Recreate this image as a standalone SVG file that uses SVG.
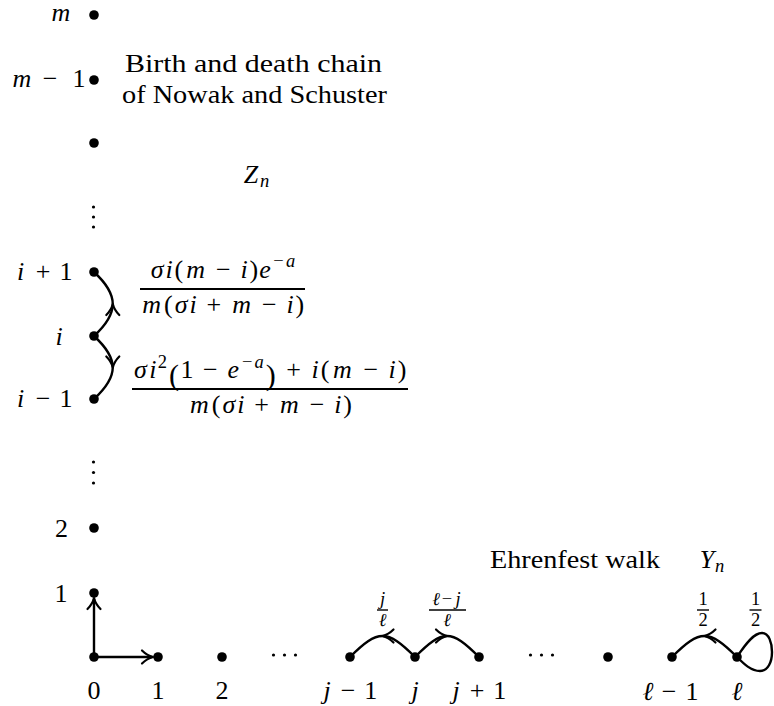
<svg xmlns="http://www.w3.org/2000/svg" width="774" height="706" viewBox="0 0 774 706">
<style>
.tx{font-family:"Liberation Serif","Times New Roman",serif;fill:#000;font-size:26px}
.c{text-anchor:middle}
.i{font-style:italic}
.sc{font-size:18.5px}
.big{font-size:30px}
.dot{fill:#000}
.edge{fill:none;stroke:#000;stroke-width:2.4;stroke-linecap:round}
.rule{stroke:#000;stroke-width:1.8}
.srule{stroke:#000;stroke-width:1.4}
</style>
<defs>
<path id="tip" d="M-11,-6.5 C-7,-2.5 -2.5,-0.6 0,0 C-2.5,0.6 -7,2.5 -11,6.5" fill="none" stroke="#000" stroke-width="2.2" stroke-linecap="round" stroke-linejoin="round"/>
</defs>
<rect width="774" height="706" fill="#fff"/>

<g id="connectors">
<path class="edge" d="M94,657 L94,599"/>
<use href="#tip" transform="translate(94,598) rotate(-90)"/>
<path class="edge" d="M94,657 L152,657"/>
<use href="#tip" transform="translate(153,657)"/>
<path class="edge" d="M94,336 C119,313 119,295 94,272"/>
<use href="#tip" transform="translate(112.8,304) rotate(-90)"/>
<path class="edge" d="M94,336 C119,359 119,376 94,399"/>
<use href="#tip" transform="translate(112.8,367.5) rotate(90)"/>
<path class="edge" d="M415,657 C387,629 378,629 350,657"/>
<use href="#tip" transform="translate(382.5,636) rotate(180)"/>
<path class="edge" d="M415,657 C443,629 451,629 479,657"/>
<use href="#tip" transform="translate(447,636)"/>
<path class="edge" d="M737,657 C709,629 700,629 672,657"/>
<use href="#tip" transform="translate(704.5,636) rotate(180)"/>
<path class="edge" d="M737,657 C746,643 754,633 762,633 C769,633 772,643 772,652 C772,662 768,671 760,671 C751,671 744,664 737,657"/>
</g>

<g id="node-m">
<circle class="dot" cx="94" cy="15" r="4.8"/>
<text class="tx c i" x="61" y="21">m</text>
</g>
<g id="node-m-1">
<circle class="dot" cx="94" cy="80" r="4.8"/>
<text class="tx c" y="87"><tspan class="i" x="22">m</tspan><tspan x="50">−</tspan><tspan x="79">1</tspan></text>
</g>
<g id="node-m-2">
<circle class="dot" cx="94" cy="143" r="4.8"/>
</g>
<g id="vdots-upper">
<circle class="dot" cx="93.5" cy="207" r="1.6"/>
<circle class="dot" cx="93.5" cy="217" r="1.6"/>
<circle class="dot" cx="93.5" cy="227" r="1.6"/>
</g>
<g id="node-i+1">
<circle class="dot" cx="94" cy="272" r="4.8"/>
<text class="tx c" y="279.6"><tspan class="i" x="20.5">i</tspan><tspan x="43">+</tspan><tspan x="66">1</tspan></text>
</g>
<g id="node-i">
<circle class="dot" cx="94" cy="336" r="4.8"/>
<text class="tx c i" x="59" y="344.7">i</text>
</g>
<g id="node-i-1">
<circle class="dot" cx="94" cy="399" r="4.8"/>
<text class="tx c" y="406.6"><tspan class="i" x="20.5">i</tspan><tspan x="43">−</tspan><tspan x="66">1</tspan></text>
</g>
<g id="vdots-lower">
<circle class="dot" cx="93.5" cy="462" r="1.6"/>
<circle class="dot" cx="93.5" cy="472.5" r="1.6"/>
<circle class="dot" cx="93.5" cy="483" r="1.6"/>
</g>
<g id="node-2v">
<circle class="dot" cx="94" cy="528" r="4.8"/>
<text class="tx c" x="61.5" y="536.5">2</text>
</g>
<g id="node-1v">
<circle class="dot" cx="94" cy="593" r="4.8"/>
<text class="tx c" x="61" y="601.5">1</text>
</g>
<g id="node-0">
<circle class="dot" cx="94" cy="657" r="4.8"/>
<text class="tx c" x="94" y="699">0</text>
</g>
<g id="node-1h">
<circle class="dot" cx="158" cy="657" r="4.8"/>
<text class="tx c" x="158" y="699">1</text>
</g>
<g id="node-2h">
<circle class="dot" cx="222" cy="657" r="4.8"/>
<text class="tx c" x="222" y="699">2</text>
</g>
<g id="cdots-1">
<circle class="dot" cx="273.5" cy="655" r="1.6"/>
<circle class="dot" cx="284.5" cy="655" r="1.6"/>
<circle class="dot" cx="295.5" cy="655" r="1.6"/>
</g>
<g id="node-j-1">
<circle class="dot" cx="350" cy="657" r="4.8"/>
<text class="tx c" y="699.4"><tspan class="i" x="327">j</tspan><tspan x="348">−</tspan><tspan x="370.8">1</tspan></text>
</g>
<g id="node-j">
<circle class="dot" cx="415" cy="657" r="4.8"/>
<text class="tx c i" x="415" y="699.4">j</text>
</g>
<g id="node-j+1">
<circle class="dot" cx="479" cy="657" r="4.8"/>
<text class="tx c" y="699.4"><tspan class="i" x="456">j</tspan><tspan x="477">+</tspan><tspan x="499.8">1</tspan></text>
</g>
<g id="cdots-2">
<circle class="dot" cx="530.5" cy="655" r="1.6"/>
<circle class="dot" cx="541.5" cy="655" r="1.6"/>
<circle class="dot" cx="552.5" cy="655" r="1.6"/>
</g>
<g id="node-l-2">
<circle class="dot" cx="608" cy="657" r="4.8"/>
</g>
<g id="node-l-1">
<circle class="dot" cx="672" cy="657" r="4.8"/>
<text class="tx c" y="700"><tspan class="i" x="648">ℓ</tspan><tspan x="669.2">−</tspan><tspan x="691.9">1</tspan></text>
</g>
<g id="node-l">
<circle class="dot" cx="737" cy="657" r="4.8"/>
<text class="tx c i" x="737" y="700">ℓ</text>
</g>

<g id="title-birth-death">
<text class="tx" x="125" y="72" textLength="257" lengthAdjust="spacingAndGlyphs">Birth and death chain</text>
<text class="tx" x="122" y="103" textLength="265" lengthAdjust="spacingAndGlyphs">of Nowak and Schuster</text>
<text class="tx c i" x="251" y="183">Z</text>
<text class="tx c i sc" x="264.5" y="187">n</text>
</g>

<g id="title-ehrenfest">
<text class="tx" x="490" y="568" textLength="170" lengthAdjust="spacingAndGlyphs">Ehrenfest walk</text>
<text class="tx c i" x="707" y="568">Y</text>
<text class="tx c i sc" x="719.5" y="572">n</text>
</g>

<g id="label-up">
<text class="tx c" y="278"><tspan class="i" x="157.1">σ</tspan><tspan class="i" x="169.2">i</tspan><tspan x="178.9">(</tspan><tspan class="i" x="195.6">m</tspan><tspan x="223.4">−</tspan><tspan class="i" x="244">i</tspan><tspan x="253.8">)</tspan><tspan class="i" x="265.1">e</tspan></text>
<text class="tx c sc" y="267"><tspan x="278.4">−</tspan><tspan class="i" x="290.5">a</tspan></text>
<line class="rule" x1="140" y1="289" x2="305" y2="289"/>
<text class="tx c" y="313"><tspan class="i" x="151.6">m</tspan><tspan x="168.4">(</tspan><tspan class="i" x="181.1">σ</tspan><tspan class="i" x="193.2">i</tspan><tspan x="213.9">+</tspan><tspan class="i" x="241.6">m</tspan><tspan x="269.4">−</tspan><tspan class="i" x="290.1">i</tspan><tspan x="299.8">)</tspan></text>
</g>

<g id="label-down">
<text class="tx c" y="378"><tspan class="i" x="140.3">σ</tspan><tspan class="i" x="152.8">i</tspan><tspan x="187">1</tspan><tspan x="210.4">−</tspan><tspan class="i" x="233.3">e</tspan><tspan x="293.7">+</tspan><tspan class="i" x="315">i</tspan><tspan x="325">(</tspan><tspan class="i" x="342.3">m</tspan><tspan x="370.8">−</tspan><tspan class="i" x="392.2">i</tspan><tspan x="402.1">)</tspan></text>
<text class="tx c sc" y="368"><tspan x="162.3">2</tspan><tspan x="247.1">−</tspan><tspan class="i" x="259.2">a</tspan></text>
<text class="tx c big" y="385"><tspan x="173.9">(</tspan><tspan x="270.8">)</tspan></text>
<line class="rule" x1="132" y1="389" x2="408" y2="389"/>
<text class="tx c" y="413"><tspan class="i" x="199.3">m</tspan><tspan x="216.1">(</tspan><tspan class="i" x="228.8">σ</tspan><tspan class="i" x="240.9">i</tspan><tspan x="261.6">+</tspan><tspan class="i" x="289.3">m</tspan><tspan x="317.1">−</tspan><tspan class="i" x="337.8">i</tspan><tspan x="347.5">)</tspan></text>
</g>

<g id="label-j-left">
<text class="tx c i sc" x="382.5" y="605">j</text>
<line class="srule" x1="377" y1="610" x2="388" y2="610"/>
<text class="tx c i sc" x="382.5" y="626">ℓ</text>
</g>
<g id="label-j-right">
<text class="tx c sc" y="605"><tspan class="i" x="436">ℓ</tspan><tspan x="447">−</tspan><tspan class="i" x="458">j</tspan></text>
<line class="srule" x1="429" y1="610" x2="466" y2="610"/>
<text class="tx c i sc" x="447" y="626">ℓ</text>
</g>
<g id="label-half-left">
<text class="tx c sc" x="703" y="605">1</text>
<line class="srule" x1="697" y1="610" x2="709" y2="610"/>
<text class="tx c sc" x="703" y="626">2</text>
</g>
<g id="label-half-right">
<text class="tx c sc" x="755.5" y="605">1</text>
<line class="srule" x1="749.5" y1="610" x2="761.5" y2="610"/>
<text class="tx c sc" x="755.5" y="626">2</text>
</g>
</svg>
